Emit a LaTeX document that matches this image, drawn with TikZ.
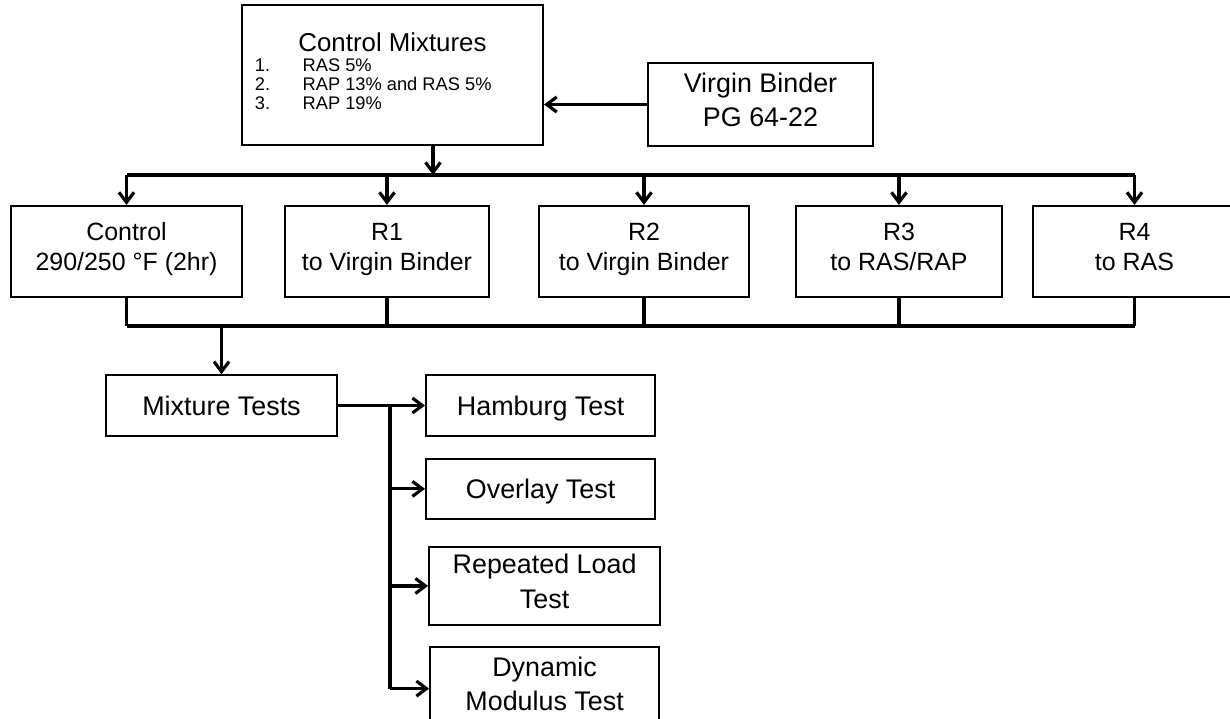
\documentclass[tikz,border=0pt]{standalone}
\usepackage{fontspec}
\setmainfont{Liberation Sans}
\usetikzlibrary{arrows.meta,positioning}
\newcommand{\rowfont}{\fontsize{14.2}{17}\selectfont}
\newcommand{\bigfont}{\fontsize{15.3}{19.5}\selectfont}
\newcommand{\listfont}{\fontsize{10.4}{10.8}\selectfont}

\begin{document}
\begin{tikzpicture}[
    font=\bigfont,
    box/.style={draw=black, line width=1.2pt, align=center, inner sep=0pt,
      execute at begin node={\rule{0pt}{16.5pt}},
      execute at end node={\rule[-5.5pt]{0pt}{0pt}}},
    rowbox/.style={box, font=\rowfont, minimum height=18.2mm},
    testbox/.style={box, minimum width=45.8mm, minimum height=12.1mm},
    line/.style={line width=1.8pt, draw=black},
    arr/.style={line, -{Straight Barb[length=2mm,width=3mm]}}
]
\useasboundingbox (0,0) rectangle (24.6,-14.38);

\node[box, minimum width=60.2mm, minimum height=28mm,
  execute at begin node={}, execute at end node={}] (mix) at (7.85,-1.50) {%
  {\fontsize{14.7}{17}\selectfont Control Mixtures}\\[-8pt]
  {\listfont\begin{tabular}[t]{@{}l@{\hspace{6.5mm}}p{45.5mm}@{}}
    1. & RAS 5\%\\
    2. & RAP 13\% and RAS 5\%\\
    3. & RAP 19\%
  \end{tabular}}\\[-5pt]};
\node[box, minimum width=45mm, minimum height=16.6mm] (virgin) at (15.21,-2.09) {Virgin Binder\\PG 64-22};

\node[rowbox, minimum width=46.2mm] (ctrl) at (2.53,-5.03) {Control\\290/250 °F (2hr)};
\node[rowbox, minimum width=40.8mm] (r1) at (7.74,-5.03) {R1\\to Virgin Binder};
\node[rowbox, minimum width=42mm] (r2) at (12.88,-5.03) {R2\\to Virgin Binder};
\node[rowbox, minimum width=41.2mm] (r3) at (17.98,-5.03) {R3\\to RAS/RAP};
\node[rowbox, minimum width=40.6mm] (r4) at (22.69,-5.03) {R4\\to RAS};

\node[testbox, minimum width=46.2mm] (mixtest) at (4.43,-8.11) {Mixture Tests};
\node[testbox, right=17.4mm of mixtest] (hamburg) {Hamburg Test};
\node[testbox, minimum height=12mm, below=4.2mm of hamburg] (overlay) {Overlay Test};
\node[testbox, minimum width=46.2mm, minimum height=15.6mm, below=5.2mm of overlay.south, anchor=north, xshift=0.08cm] (rlt) {Repeated Load\\Test};
\node[testbox, minimum height=16.6mm, below=4mm of rlt] (dynmod) {Dynamic\\Modulus Test};

\coordinate (bus1) at (8.66,-3.50);
\coordinate (bus2) at (0,-6.52);
\coordinate (split) at (7.80,0);

% binder into the control mixtures
\draw[arr] (virgin.west) -- (virgin.west -| mix.east);
\draw[arr] (mix.south -| bus1) -- (bus1);

% distribute to the five conditioning routes
\draw[line] (ctrl.north |- bus1) -- (r4.north |- bus1);
\foreach \b in {ctrl,r1,r2,r3,r4}
  \draw[arr] (\b.north |- bus1) -- (\b.north);

% collect the routes
\foreach \b in {ctrl,r1,r2,r3,r4}
  \draw[line] (\b.south) -- (\b.south |- bus2);
\draw[line] (ctrl.south |- bus2) -- (r4.south |- bus2);
\draw[arr] (mixtest.north |- bus2) -- (mixtest.north);

% test branches
\draw[arr] (mixtest.east) -- (hamburg.west);
\draw[line] (split |- mixtest.east) -- (split |- dynmod.west);
\foreach \t in {overlay,rlt,dynmod}
  \draw[arr] (split |- \t.west) -- (\t.west);

\end{tikzpicture}
\end{document}
